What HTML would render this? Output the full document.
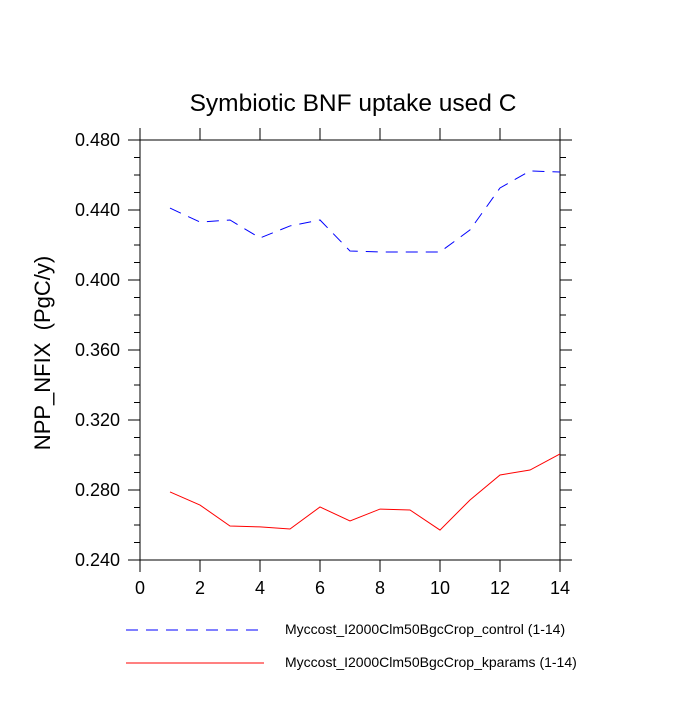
<!DOCTYPE html>
<html><head><meta charset="utf-8"><style>body{margin:0;background:#fff}svg{font-family:"Liberation Sans",sans-serif}text{white-space:pre}</style></head>
<body>
<svg id="c" width="700" height="700"></svg>
<script>
const xs=[1,2,3,4,5,6,7,8,9,10,11,12,13,14];
const controlVals=[0.4411,0.4331,0.4343,0.4240,0.4309,0.4343,0.4166,0.4160,0.4160,0.4160,0.4286,0.4526,0.4623,0.4617];
const kparamsVals=[0.2789,0.2714,0.2594,0.2589,0.2577,0.2703,0.2623,0.2691,0.2686,0.2571,0.2743,0.2886,0.2914,0.3006];
const xTicks=[0,2,4,6,8,10,12,14];
const yTicks=[0.24,0.28,0.32,0.36,0.40,0.44,0.48];
const svg=document.getElementById('c');const NS='http://www.w3.org/2000/svg';
const L=140,R=560,T=140,B=560;
const sx=v=>L+(v-0)/14*(R-L), sy=v=>B-(v-0.24)/0.24*(B-T);
function mk(t,a,p){const e=document.createElementNS(NS,t);for(const k in a)e.setAttribute(k,a[k]);(p||svg).appendChild(e);return e;}
let e=mk('rect',{x:L,y:T,width:R-L,height:B-T,fill:'none',stroke:'#000','stroke-width':1});

xTicks.forEach(v=>{const x=sx(v);
 mk('line',{x1:x,x2:x,y1:B,y2:B+12,stroke:'#000'});mk('line',{x1:x,x2:x,y1:T,y2:T-12,stroke:'#000'});
 const t=mk('text',{x:x,y:B+34,'text-anchor':'middle','font-size':18});t.textContent=v;
 });
for(let v=0.24;v<=0.4801;v+=0.01){const y=sy(v);const maj=Math.abs(Math.round(v*100)%4)==0;const len=maj?12:6;
 mk('line',{x1:L,x2:L-len,y1:y,y2:y,stroke:'#000'});mk('line',{x1:R,x2:R+len,y1:y,y2:y,stroke:'#000'});}
yTicks.forEach(v=>{const t=mk('text',{x:L-20,y:sy(v)+6,'text-anchor':'end','font-size':18});t.textContent=v.toFixed(3);
 });
let ti=mk('text',{x:353,y:111,'text-anchor':'middle','font-size':24.5});ti.textContent='Symbiotic BNF uptake used C';

let yt=mk('text',{x:0,y:0,'text-anchor':'middle','font-size':22,transform:'translate(50,353) rotate(-90)'});yt.textContent='NPP_NFIX  (PgC/y)';

function pts(a){return xs.map((x,i)=>sx(x)+','+sy(a[i])).join(' ');}
let l1=mk('polyline',{points:pts(controlVals),fill:'none',stroke:'#00f','stroke-width':1,'stroke-dasharray':'12,8'});

let l2=mk('polyline',{points:pts(kparamsVals),fill:'none',stroke:'#f00','stroke-width':1});

mk('line',{x1:126,x2:264,y1:630,y2:630,stroke:'#00f','stroke-dasharray':'12,8'});
let g1=mk('text',{x:285,y:634,'font-size':14});g1.textContent='Myccost_I2000Clm50BgcCrop_control (1-14)';

mk('line',{x1:126,x2:264,y1:663,y2:663,stroke:'#f00'});
let g2=mk('text',{x:285,y:667,'font-size':14});g2.textContent='Myccost_I2000Clm50BgcCrop_kparams (1-14)';

</script>
</body></html>
